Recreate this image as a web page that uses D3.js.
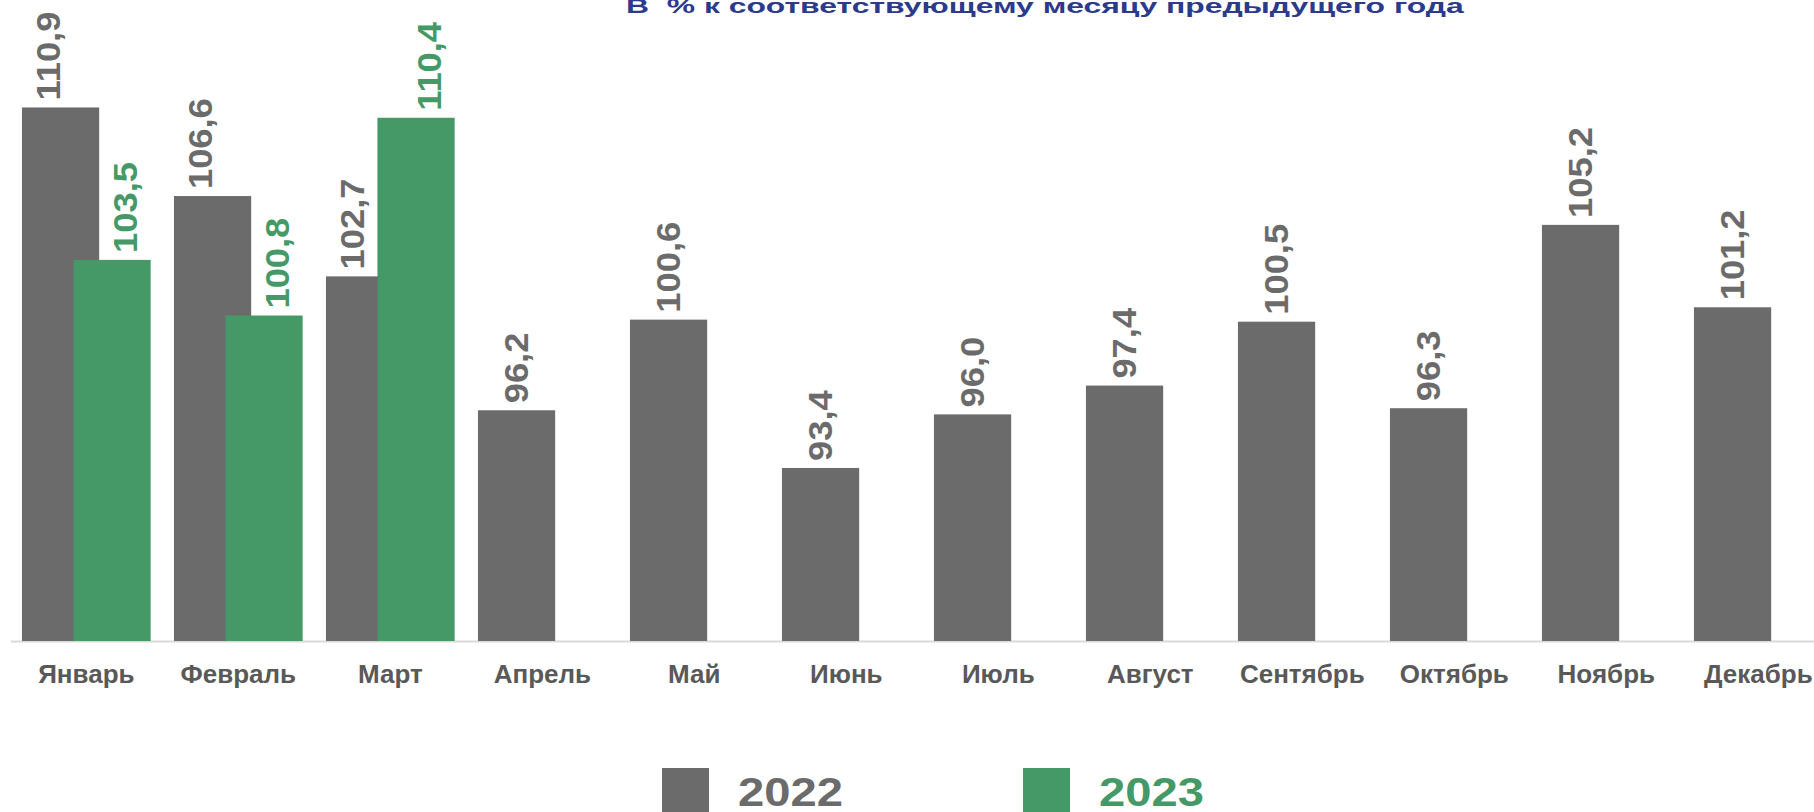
<!DOCTYPE html>
<html>
<head>
<meta charset="utf-8">
<script src="https://cdn.jsdelivr.net/npm/d3@7"></script>
<style>
  body { margin: 0; background: #fff; }
  svg text { font-family: "Liberation Sans", Arial, sans-serif; font-weight: bold; }
</style>
</head>
<body>
<div id="wrapper"></div>
<script>
// data
const months = ["Январь", "Февраль", "Март", "Апрель", "Май", "Июнь",
  "Июль", "Август", "Сентябрь", "Октябрь", "Ноябрь", "Декабрь"]
const values2022 = [110.9, 106.6, 102.7, 96.2, 100.6, 93.4, 96.0, 97.4, 100.5, 96.3, 105.2, 101.2]
const values2023 = [103.5, 100.8, 110.4]
const seriesNames = ["2022", "2023"]
const seriesColors = ["#6b6b6b", "#459966"]
const titleText = "В  % к соответствующему месяцу предыдущего года"

// dimensions
const dimensions = { width: 1814, height: 812 }
const baseY = 641

const svg = d3.select("#wrapper").append("svg")
  .attr("width", dimensions.width)
  .attr("height", dimensions.height)

const ru = d3.formatLocale({ decimal: ",", thousands: " ", grouping: [3], currency: ["", ""] })
const fmt = ru.format(".1f")

// scales
const xScale = d3.scaleBand()
  .domain(months)
  .range([10.3, 10.3 + 152 * 12])
  .paddingInner(0.1533)
  .paddingOuter(0.0767)
const bw = xScale.bandwidth()
const barW = bw * 0.6
const offset = d3.scaleOrdinal().domain(seriesNames).range([0, bw * 0.4])

const yScale = d3.scaleLinear().domain([85, 115]).range([baseY, 23])

// rows
const rows = []
months.forEach((m, i) => {
  rows.push({ month: m, series: "2022", value: values2022[i], pair: i < values2023.length })
})
values2023.forEach((v, i) => {
  rows.push({ month: months[i], series: "2023", value: v, pair: true })
})
const color = d3.scaleOrdinal().domain(seriesNames).range(seriesColors)

// axis
const xAxis = svg.append("g")
  .attr("transform", `translate(0,${baseY})`)
  .call(d3.axisBottom(xScale).tickSize(0))
xAxis.select(".domain").attr("stroke", "#d9d9d9").attr("stroke-width", 2)
xAxis.selectAll(".tick text")
  .attr("y", 42)
  .attr("dy", 0)
  .attr("fill", "#595959")
  .style("font-size", "26px")

// bars
svg.append("g").selectAll("rect")
  .data(rows)
  .join("rect")
  .attr("x", d => xScale(d.month) + offset(d.series))
  .attr("y", d => yScale(d.value))
  .attr("width", barW)
  .attr("height", d => baseY - yScale(d.value))
  .attr("fill", d => color(d.series))

// value labels
const labelX = d => {
  const x0 = xScale(d.month)
  if (!d.pair) return x0 + barW / 2
  return d.series === "2022" ? x0 + bw * 0.2 : x0 + bw * 0.8
}
svg.append("g").selectAll("text")
  .data(rows)
  .join("text")
  .attr("transform", d => `translate(${labelX(d)},${yScale(d.value) - 7}) rotate(-90) scale(1.1,1)`)
  .attr("dy", "0.36em")
  .attr("fill", d => color(d.series))
  .style("font-size", "33px")
  .text(d => fmt(d.value))

// title, stretched wide like the original
const title = svg.append("text")
  .attr("fill", "#2b3a8c")
  .style("font-size", "20px")
  .style("white-space", "pre")
  .text(titleText)
const tw = title.node().getComputedTextLength()
title.attr("transform", `translate(626,13) scale(${838 / tw},1)`)

// legend
const legend = svg.append("g").selectAll("g")
  .data(seriesNames)
  .join("g")
  .attr("transform", (d, i) => `translate(${662 + i * 361},768)`)
legend.append("rect")
  .attr("width", 47)
  .attr("height", 47)
  .attr("fill", d => color(d))
legend.append("text")
  .attr("transform", "translate(76,38) scale(1.15,1)")
  .attr("fill", d => color(d))
  .style("font-size", "41px")
  .text(d => d)
</script>
</body>
</html>
